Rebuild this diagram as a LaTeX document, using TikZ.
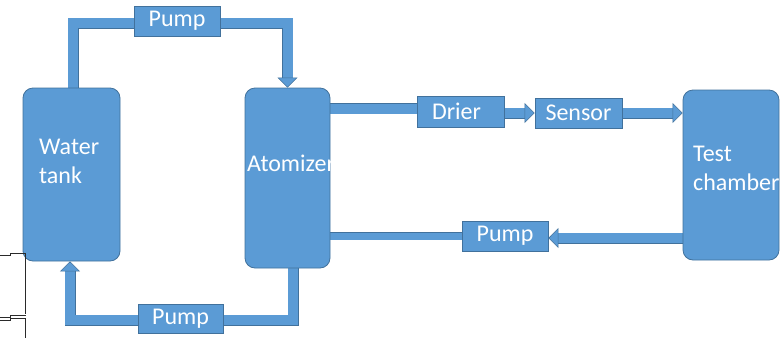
\documentclass[tikz,border=0pt]{standalone}
\usepackage{fontspec}
\setmainfont{Carlito}
\usetikzlibrary{arrows.meta, positioning, backgrounds}
\definecolor{fillblue}{HTML}{5B9BD5}
\definecolor{edgeblue}{HTML}{41719C}
\definecolor{wire}{HTML}{2A2A2A}
\begin{document}
\begin{tikzpicture}[
  x=1pt, y=-1pt,
  font=\fontsize{24}{28.5}\selectfont,
  vessel/.style={draw=edgeblue, line width=0.8pt, fill=fillblue, rounded corners=10pt, inner sep=0pt},
  unit/.style={draw=edgeblue, line width=0.8pt, fill=fillblue, text=white, inner sep=0pt,
               minimum width=86pt, minimum height=30pt},
  lbl/.style={text=white, align=left, inner sep=0pt},
  pipe/.style={draw=fillblue, line width=10pt, line join=miter,
               preaction={draw=edgeblue, line width=11pt, -}},
  thinpipe/.style={draw=fillblue, line width=7pt,
               preaction={draw=edgeblue, line width=8pt, -}},
  flow/.style={draw=fillblue, line width=10pt, line join=miter,
               -{Triangle[length=10pt, width=20pt, line width=0.6pt, color=edgeblue, fill=fillblue]},
               preaction={draw=edgeblue, line width=11pt, -, shorten >=9pt}}
]
  \useasboundingbox (0,0) rectangle (781,338);

  \node[vessel, minimum width=97pt, minimum height=173pt] (tank) at (71.5,174.5) {};
  \node[vessel, minimum width=85pt, minimum height=180pt] (atom) at (287.5,178) {};
  \node[vessel, minimum width=96pt, minimum height=170pt] (chamber) at (731,175) {};

  \node[unit] (pumpA) at (177,21) {Pump};
  \node[unit, minimum width=85pt, minimum height=29pt] (pumpB) at (180.5,318.5) {Pump};
  \node[unit, minimum width=87pt, minimum height=31pt] (drier) at (460.5,111.5) {\hspace*{-8pt}Drier};
  \node[unit, minimum width=87pt] (sensor) at (578.5,113) {Sensor};
  \node[unit] (pumpC) at (505,236) {Pump};

  \node[lbl, anchor=base west] (tanktxt) at (39,183) {Water\\tank};
  \node[lbl, anchor=base west] (atomtxt) at (247,171) {Atomizer};
  \node[lbl, anchor=base west] (chambertxt) at (693,190) {Test\\chamber};

  \begin{scope}[on background layer]
    \draw[pipe] ([xshift=1.5pt]tank.north) |- ([yshift=-2pt]pumpA.west);
    \draw[flow] ([yshift=-2pt]pumpA.east) -| (atom.north);
    \draw[pipe] ([xshift=5.5pt]atom.south) |- ([yshift=-1.5pt]pumpB.east);
    \draw[flow] ([yshift=-1.5pt]pumpB.west) -| ([xshift=-1.5pt]tank.south);
    \draw[pipe] ([yshift=3pt]drier.west -| atom.east) -- ([yshift=3pt]drier.west);
    \draw[flow] (drier.east |- sensor.west) -- (sensor.west);
    \draw[flow] (sensor.east) -- (sensor.east -| chamber.west);
    \draw[flow] ([yshift=-2pt]pumpC.east -| chamber.west) -- ([yshift=-2pt]pumpC.east);
    \draw[thinpipe] (pumpC.west) -- (pumpC.west -| atom.east);
  \end{scope}

  \draw[wire, line width=1pt] (0,255) -- (10,255) -- (10,253) -- (25.5,253) -- (25.5,314);
  \draw[wire, line width=1pt] (0,317) -- (10,317) -- (10,315) -- (25.5,315);
  \draw[wire, line width=1pt] (0,320) -- (10,320) -- (10,318) -- (25.5,318) -- (25.5,338);
\end{tikzpicture}
\end{document}
